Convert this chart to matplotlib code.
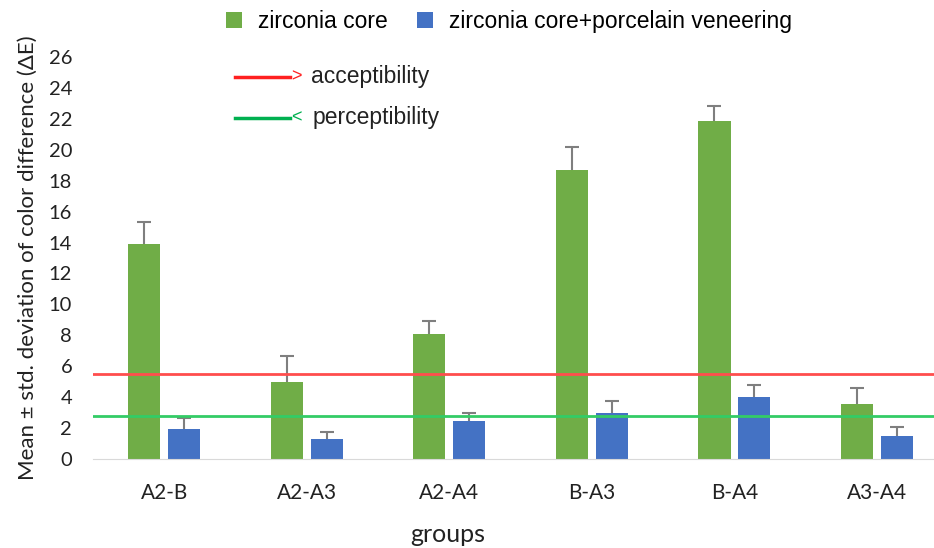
import numpy as np
import matplotlib.pyplot as plt
from matplotlib.lines import Line2D

groups = ['A2-B', 'A2-A3', 'A2-A4', 'B-A3', 'B-A4', 'A3-A4']
coreMean = [13.9, 5.0, 8.1, 18.7, 21.85, 3.55]
coreSd = [1.4, 1.65, 0.8, 1.5, 0.95, 1.05]
veneerMean = [1.92, 1.27, 2.44, 3.0, 4.03, 1.51]
veneerSd = [0.7, 0.45, 0.55, 0.75, 0.75, 0.55]
acceptibility = 5.5
perceptibility = 2.8

greenColor = '#70AD47'
blueColor = '#4472C4'
tickFont = 'Lato'
labelFont = 'Liberation Sans'

fig = plt.figure(figsize=(9.34, 5.48), dpi=100)
ax = fig.add_axes([0.0996, 0.1624, 0.9004, 0.7336])

x = np.arange(len(groups))
barWidth = 0.225
offset = 0.14
errStyle = dict(ecolor='#7f7f7f', elinewidth=1.5, capsize=5, capthick=1.5)
zeros = np.zeros(len(groups))
coreBars = ax.bar(x - offset, coreMean, barWidth, color=greenColor, label='zirconia core',
                  yerr=[zeros, coreSd], error_kw=errStyle, zorder=2)
veneerBars = ax.bar(x + offset, veneerMean, barWidth, color=blueColor,
                    label='zirconia core+porcelain veneering',
                    yerr=[zeros, veneerSd], error_kw=errStyle, zorder=2)
# only the upper cap is shown
for container in [coreBars, veneerBars]:
    caps = container.errorbar.lines[1]
    caps[0].set_visible(False)

ax.axhline(acceptibility, color='#ff4d4d', linewidth=2, zorder=3)
ax.axhline(perceptibility, color='#33cc66', linewidth=2, zorder=3)

ax.set_xlim(-0.5, 5.4)
ax.set_ylim(0, 26)
ax.set_yticks(np.arange(0, 27, 2))
ax.set_xticks(x)
ax.set_xticklabels(groups, fontsize=15, family=tickFont)
for lab in ax.get_yticklabels():
    lab.set_fontsize(14.5)
    lab.set_family(tickFont)
ax.tick_params(axis='both', length=0, colors='#222222')
ax.tick_params(axis='x', pad=17)
ax.tick_params(axis='y', pad=15)
for side in ['top', 'right', 'left']:
    ax.spines[side].set_visible(False)
ax.spines['bottom'].set_color('#d9d9d9')

ax.set_ylabel('Mean ± std. deviation of color difference (ΔE)', fontsize=16,
              family=tickFont, color='#222222', labelpad=8)
ax.set_xlabel('groups', fontsize=18, family=tickFont, color='#222222', va='center')
ax.xaxis.set_label_coords(0.422, -0.187)

fig.legend(loc='center', bbox_to_anchor=(0.545, 0.96), ncol=2, frameon=False,
           prop={'family': labelFont, 'size': 16.5}, handlelength=0.7, handleheight=0.7,
           columnspacing=1.3, handletextpad=0.7, borderaxespad=0)

# threshold key
fig.add_artist(Line2D([0.2516, 0.3105], [0.8595, 0.8595], color='#ff2020', linewidth=2.5,
                      transform=fig.transFigure))
fig.text(0.3115, 0.8595, '>', color='#ff2020', fontsize=13, family=labelFont, va='center')
fig.text(0.333, 0.8595, 'acceptibility', color='#222222', fontsize=16.5, family=labelFont, va='center')
fig.add_artist(Line2D([0.2516, 0.3105], [0.7847, 0.7847], color='#00b050', linewidth=2.5,
                      transform=fig.transFigure))
fig.text(0.3115, 0.7847, '<', color='#00b050', fontsize=13, family=labelFont, va='center')
fig.text(0.335, 0.7847, 'perceptibility', color='#222222', fontsize=16.5, family=labelFont, va='center')

fig.savefig('out.png', dpi=100)
